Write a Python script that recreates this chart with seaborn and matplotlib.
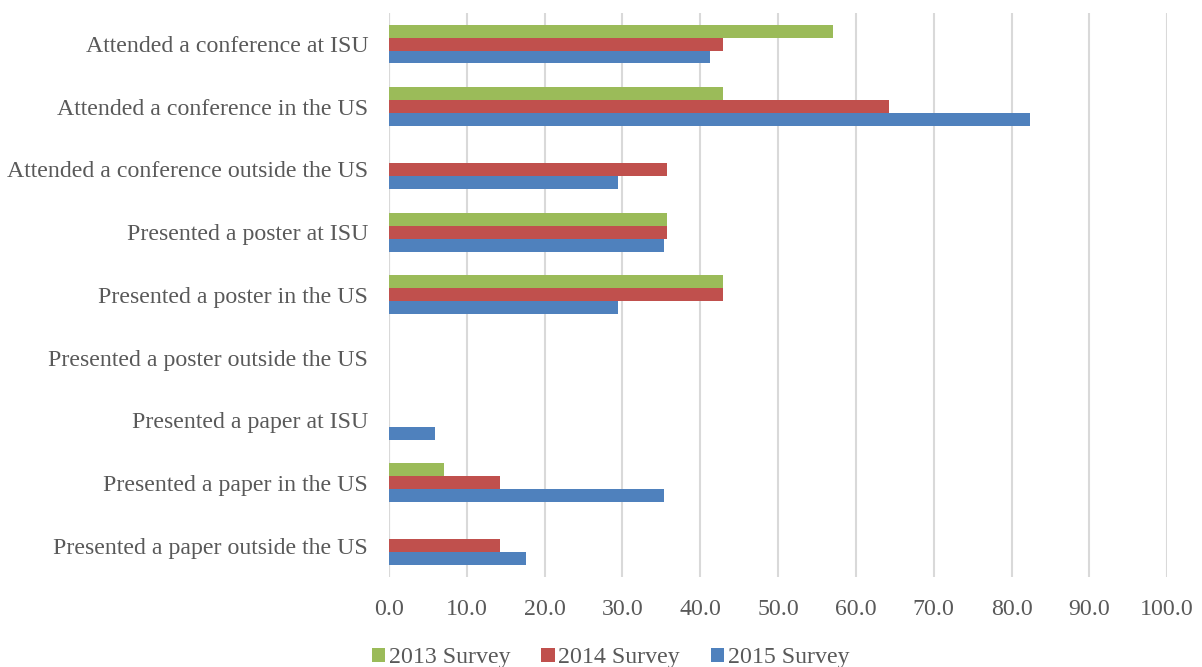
import matplotlib
matplotlib.use("Agg")
import matplotlib.pyplot as plt
import seaborn as sns
import pandas as pd
import numpy as np

# Share of respondents (%) reporting each conference activity, per survey year
activities = [
    "Attended a conference at ISU",
    "Attended a conference in the US",
    "Attended a conference outside the US",
    "Presented a poster at ISU",
    "Presented a poster in the US",
    "Presented a poster outside the US",
    "Presented a paper at ISU",
    "Presented a paper in the US",
    "Presented a paper outside the US",
]
survey_2013 = [57.1, 42.9, 0.0, 35.7, 42.9, 0.0, 0.0, 7.1, 0.0]
survey_2014 = [42.9, 64.3, 35.7, 35.7, 42.9, 0.0, 0.0, 14.3, 14.3]
survey_2015 = [41.2, 82.4, 29.4, 35.3, 29.4, 0.0, 5.9, 35.3, 17.6]
survey_labels = ["2013 Survey", "2014 Survey", "2015 Survey"]
x_ticks = [0, 10, 20, 30, 40, 50, 60, 70, 80, 90, 100]

colors = ["#9BBB59", "#C0504D", "#4F81BD"]
text_color = "#595959"
grid_color = "#D9D9D9"
font_size = 17.2

frames = []
for label, vals in zip(survey_labels, [survey_2013, survey_2014, survey_2015]):
    frames.append(pd.DataFrame({"Activity": activities, "Percent": vals, "Survey": label}))
df = pd.concat(frames, ignore_index=True)

sns.set_theme(style="white")
plt.rcParams["font.family"] = ["Liberation Serif", "DejaVu Serif"]

fig = plt.figure(figsize=(12.02, 6.67), dpi=100)
ax = fig.add_axes([0.3236, 0.135, 0.6474, 0.846])

sns.barplot(
    data=df, y="Activity", x="Percent", hue="Survey",
    order=activities, hue_order=survey_labels,
    palette=colors, saturation=1, orient="h", width=0.62, gap=0.0,
    errorbar=None, ax=ax, legend=True,
    edgecolor="none", linewidth=0,
)

ax.set_xlim(0, 100)
ax.set_xticks(x_ticks)
ax.set_xticklabels([f"{t:.1f}" for t in x_ticks])
ax.set_xlabel("")
ax.set_ylabel("")

for s in ax.spines.values():
    s.set_visible(False)
ax.xaxis.grid(True, color=grid_color, linewidth=1.5)
ax.set_axisbelow(True)
ax.axvline(0, color=grid_color, linewidth=1.5, zorder=0.5)
ax.tick_params(axis="both", length=0, labelsize=font_size, colors=text_color)
ax.tick_params(axis="x", pad=16)
ax.tick_params(axis="y", pad=15)

handles, labels = ax.get_legend_handles_labels()
ax.legend_.remove()
fig.legend(
    handles, labels, loc="center", bbox_to_anchor=(0.508, 0.014),
    ncol=3, frameon=False, fontsize=font_size, labelcolor=text_color,
    handlelength=0.55, handleheight=0.55, handletextpad=0.15,
    columnspacing=1.3,
)

fig.savefig("out.png", dpi=100)
